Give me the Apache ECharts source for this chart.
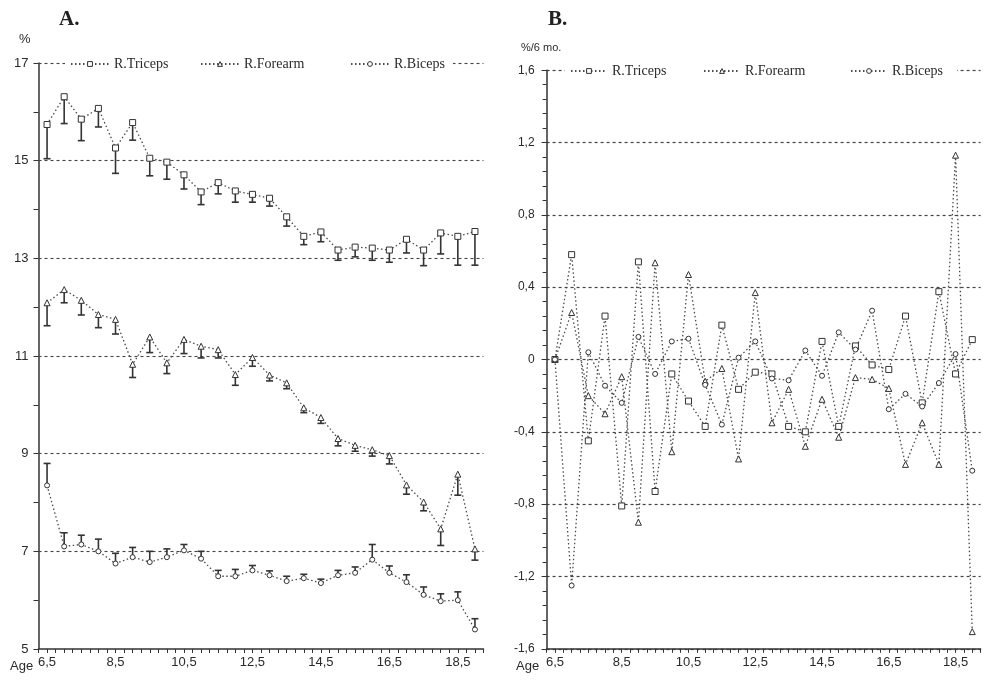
<!DOCTYPE html>
<html>
<head>
<meta charset="utf-8">
<script src="https://cdn.jsdelivr.net/npm/echarts@6/dist/echarts.min.js"></script>
<style>
html,body{margin:0;padding:0;background:#fff;}
#chart{width:988px;height:681px;}
</style>
</head>
<body>
<div id="chart"></div>
<script>
// ---- Data ----
const ages = [6.5,7,7.5,8,8.5,9,9.5,10,10.5,11,11.5,12,12.5,13,13.5,14,14.5,15,15.5,16,16.5,17,17.5,18,18.5,19];
const xLabelAges = [6.5,8.5,10.5,12.5,14.5,16.5,18.5];
const seriesNames = ['R.Triceps','R.Forearm','R.Biceps'];

// Panel A: skinfold values (%) and one-sided error bars
const tricepsA    = [15.74,16.31,15.85,16.07,15.26,15.78,15.05,14.97,14.71,14.36,14.55,14.38,14.31,14.23,13.85,13.45,13.54,13.17,13.23,13.21,13.17,13.39,13.17,13.52,13.45,13.55];
const tricepsErrA = [0.70,0.55,0.44,0.38,0.52,0.36,0.36,0.35,0.29,0.26,0.23,0.23,0.16,0.16,0.19,0.17,0.20,0.21,0.20,0.25,0.25,0.28,0.32,0.43,0.59,0.69];
const forearmA    = [12.09,12.36,12.14,11.85,11.75,10.83,11.39,10.86,11.34,11.20,11.13,10.62,10.97,10.61,10.45,9.94,9.74,9.31,9.17,9.08,8.96,8.36,8.01,7.46,8.58,7.05];
const forearmErrA = [0.47,0.27,0.30,0.27,0.30,0.27,0.32,0.22,0.29,0.24,0.17,0.22,0.18,0.12,0.12,0.10,0.12,0.15,0.12,0.13,0.17,0.19,0.18,0.34,0.43,0.23];
const bicepsA     = [8.35,7.10,7.14,7.00,6.75,6.88,6.78,6.88,7.02,6.85,6.49,6.49,6.61,6.51,6.39,6.45,6.35,6.51,6.56,6.83,6.56,6.37,6.11,5.98,6.00,5.40];
const bicepsErrA  = [0.45,0.28,0.19,0.25,0.21,0.20,0.22,0.17,0.12,0.15,0.12,0.14,0.10,0.09,0.10,0.08,0.08,0.10,0.12,0.31,0.14,0.15,0.16,0.15,0.17,0.22];
const gridValuesA = [7,9,11,13,15,17];

// Panel B: change per 6 months (%/6 mo.)
const tricepsB = [0.00,0.58,-0.45,0.24,-0.81,0.54,-0.73,-0.08,-0.23,-0.37,0.19,-0.165,-0.07,-0.08,-0.37,-0.40,0.10,-0.37,0.075,-0.03,-0.055,0.24,-0.24,0.375,-0.08,0.11];
const forearmB = [0.00,0.26,-0.20,-0.30,-0.095,-0.90,0.535,-0.51,0.47,-0.12,-0.05,-0.55,0.37,-0.35,-0.165,-0.48,-0.22,-0.43,-0.10,-0.11,-0.16,-0.58,-0.35,-0.58,1.13,-1.505];
const bicepsB  = [0.00,-1.25,0.04,-0.145,-0.24,0.125,-0.08,0.10,0.115,-0.14,-0.36,0.01,0.10,-0.105,-0.115,0.05,-0.09,0.15,0.055,0.27,-0.275,-0.19,-0.26,-0.13,0.03,-0.615];

// ---- Helpers ----
const pairs = vals => ages.map((a,i) => [a, vals[i]]);
const triples = (vals, errs) => ages.map((a,i) => [a, vals[i], errs[i]]);
const comma = v => String(v).replace('.', ',');
const isLabelAge = v => xLabelAges.some(a => Math.abs(a - v) < 1e-6);

const INK = '#2a2a2a';
const LINE = '#4a4a4a';
const symbols = ['rect','triangle','circle'];
const symSizes = [6,6,5];

function errRender(dir) {
  return function (params, api) {
    const x = api.value(0), y = api.value(1), e = api.value(2);
    const p0 = api.coord([x, y]);
    const p1 = api.coord([x, y + dir * e]);
    const w = 3.5;
    return {
      type: 'group',
      children: [
        {type:'line', shape:{x1:p0[0], y1:p0[1], x2:p1[0], y2:p1[1]}, style:{stroke:'#333', lineWidth:1.6}},
        {type:'line', shape:{x1:p1[0]-w, y1:p1[1], x2:p1[0]+w, y2:p1[1]}, style:{stroke:'#333', lineWidth:1.6}}
      ]
    };
  };
}

function lineSeries(name, idx, data, axisIdx, extra) {
  return Object.assign({
    type: 'line', name: name, xAxisIndex: axisIdx, yAxisIndex: axisIdx,
    data: data, symbol: symbols[idx], symbolSize: symSizes[idx], showAllSymbol: true,
    lineStyle: {color: LINE, width: 1.3, type: [1.5, 2.5]},
    itemStyle: {color: '#fff', borderColor: '#333', borderWidth: 1},
    z: 3, animation: false
  }, extra || {});
}

function xAxis(gridIndex) {
  return {
    type: 'value', gridIndex: gridIndex, min: 6.25, max: 19.25, interval: 0.25,
    axisLine: {onZero: false, lineStyle: {color: '#333', width: 1.5}},
    axisTick: {show: true, length: 4, lineStyle: {color: '#333'}},
    axisLabel: {color: INK, fontFamily: 'Liberation Sans, Arial', fontSize: 13, margin: 7,
      formatter: v => isLabelAge(v) ? comma(v) : ''},
    splitLine: {show: false}
  };
}

function legendItem(name, left, top, itemWidth, padRight) {
  return {
    data: [name], left: left, top: top, orient: 'horizontal',
    itemWidth: itemWidth, itemHeight: 6, itemGap: 0,
    padding: [3, padRight, 3, 5], backgroundColor: '#fff', z: 6,
    itemStyle: {color: '#fff', borderColor: '#333', borderWidth: 1},
    textStyle: {fontFamily: 'Liberation Serif', fontSize: 14, color: INK}
  };
}

const option = {
  backgroundColor: '#fff',
  animation: false,
  title: [
    {text: 'A.', left: 54, top: 4, textStyle: {fontFamily: 'Liberation Serif', fontSize: 21, fontWeight: 'bold', color: '#222'}},
    {text: 'B.', left: 543, top: 4, textStyle: {fontFamily: 'Liberation Serif', fontSize: 21, fontWeight: 'bold', color: '#222'}},
    {text: '%', left: 14, top: 28, textStyle: {fontFamily: 'Liberation Sans', fontSize: 13, fontWeight: 'normal', color: INK}},
    {text: '%/6 mo.', left: 516, top: 37, textStyle: {fontFamily: 'Liberation Sans', fontSize: 11, fontWeight: 'normal', color: INK}},
    {text: 'Age', left: 5, top: 655, textStyle: {fontFamily: 'Liberation Sans', fontSize: 13, fontWeight: 'normal', color: INK}},
    {text: 'Age', left: 511, top: 655, textStyle: {fontFamily: 'Liberation Sans', fontSize: 13, fontWeight: 'normal', color: INK}}
  ],
  legend: [
    legendItem('R.Triceps', 65, 54, 38, 30),
    legendItem('R.Forearm', 195, 54, 38, 45),
    legendItem('R.Biceps', 345, 54, 38, 8),
    legendItem('R.Triceps', 565, 61, 36, 35),
    legendItem('R.Forearm', 698, 61, 36, 44),
    legendItem('R.Biceps', 845, 61, 36, 14)
  ],
  grid: [
    {left: 38.5, right: 504.5, top: 63, bottom: 32},
    {left: 546.6, right: 7.4, top: 70.2, bottom: 32.2}
  ],
  xAxis: [xAxis(0), xAxis(1)],
  yAxis: [
    {type: 'value', gridIndex: 0, min: 5, max: 17, interval: 1,
     axisLine: {show: true, onZero: false, lineStyle: {color: '#333', width: 1.5}},
     axisTick: {show: true, length: 5, lineStyle: {color: '#333'}},
     axisLabel: {color: INK, fontFamily: 'Liberation Sans, Arial', fontSize: 13, margin: 10,
       formatter: v => (Math.round(v) % 2 === 1) ? String(v) : ''},
     splitLine: {show: false}},
    {type: 'value', gridIndex: 1, min: -1.6, max: 1.6, interval: 0.4,
     axisLine: {show: true, onZero: false, lineStyle: {color: '#333', width: 1.5}},
     axisTick: {show: true, length: 5, lineStyle: {color: '#333'}},
     minorTick: {show: true, splitNumber: 5, length: 4, lineStyle: {color: '#333'}},
     axisLabel: {color: INK, fontFamily: 'Liberation Sans, Arial', fontSize: 12, margin: 12,
       formatter: v => Math.abs(v) < 1e-9 ? '0' : comma(v.toFixed(1))},
     splitLine: {show: true, lineStyle: {color: '#444', width: 1.2, type: [3, 3]}}}
  ],
  series: [
    // Panel A error bars
    {type: 'custom', name: 'errT', xAxisIndex: 0, yAxisIndex: 0, data: triples(tricepsA, tricepsErrA), renderItem: errRender(-1), encode: {x: 0, y: 1}, z: 2, silent: true},
    {type: 'custom', name: 'errF', xAxisIndex: 0, yAxisIndex: 0, data: triples(forearmA, forearmErrA), renderItem: errRender(-1), encode: {x: 0, y: 1}, z: 2, silent: true},
    {type: 'custom', name: 'errB', xAxisIndex: 0, yAxisIndex: 0, data: triples(bicepsA, bicepsErrA), renderItem: errRender(1), encode: {x: 0, y: 1}, z: 2, silent: true},
    // Panel A lines
    lineSeries('R.Triceps', 0, pairs(tricepsA), 0, {
      markLine: {silent: true, z: 1, symbol: ['none','none'], label: {show: false}, animation: false,
        lineStyle: {color: '#444', width: 1.1, type: [3, 3]},
        data: gridValuesA.map(v => ({yAxis: v}))}
    }),
    lineSeries('R.Forearm', 1, pairs(forearmA), 0),
    lineSeries('R.Biceps', 2, pairs(bicepsA), 0),
    // Panel B lines
    lineSeries('R.Triceps', 0, pairs(tricepsB), 1),
    lineSeries('R.Forearm', 1, pairs(forearmB), 1),
    lineSeries('R.Biceps', 2, pairs(bicepsB), 1)
  ]
};

const chart = echarts.init(document.getElementById('chart'), null, {renderer: 'canvas'});
chart.setOption(option);
</script>
</body>
</html>
